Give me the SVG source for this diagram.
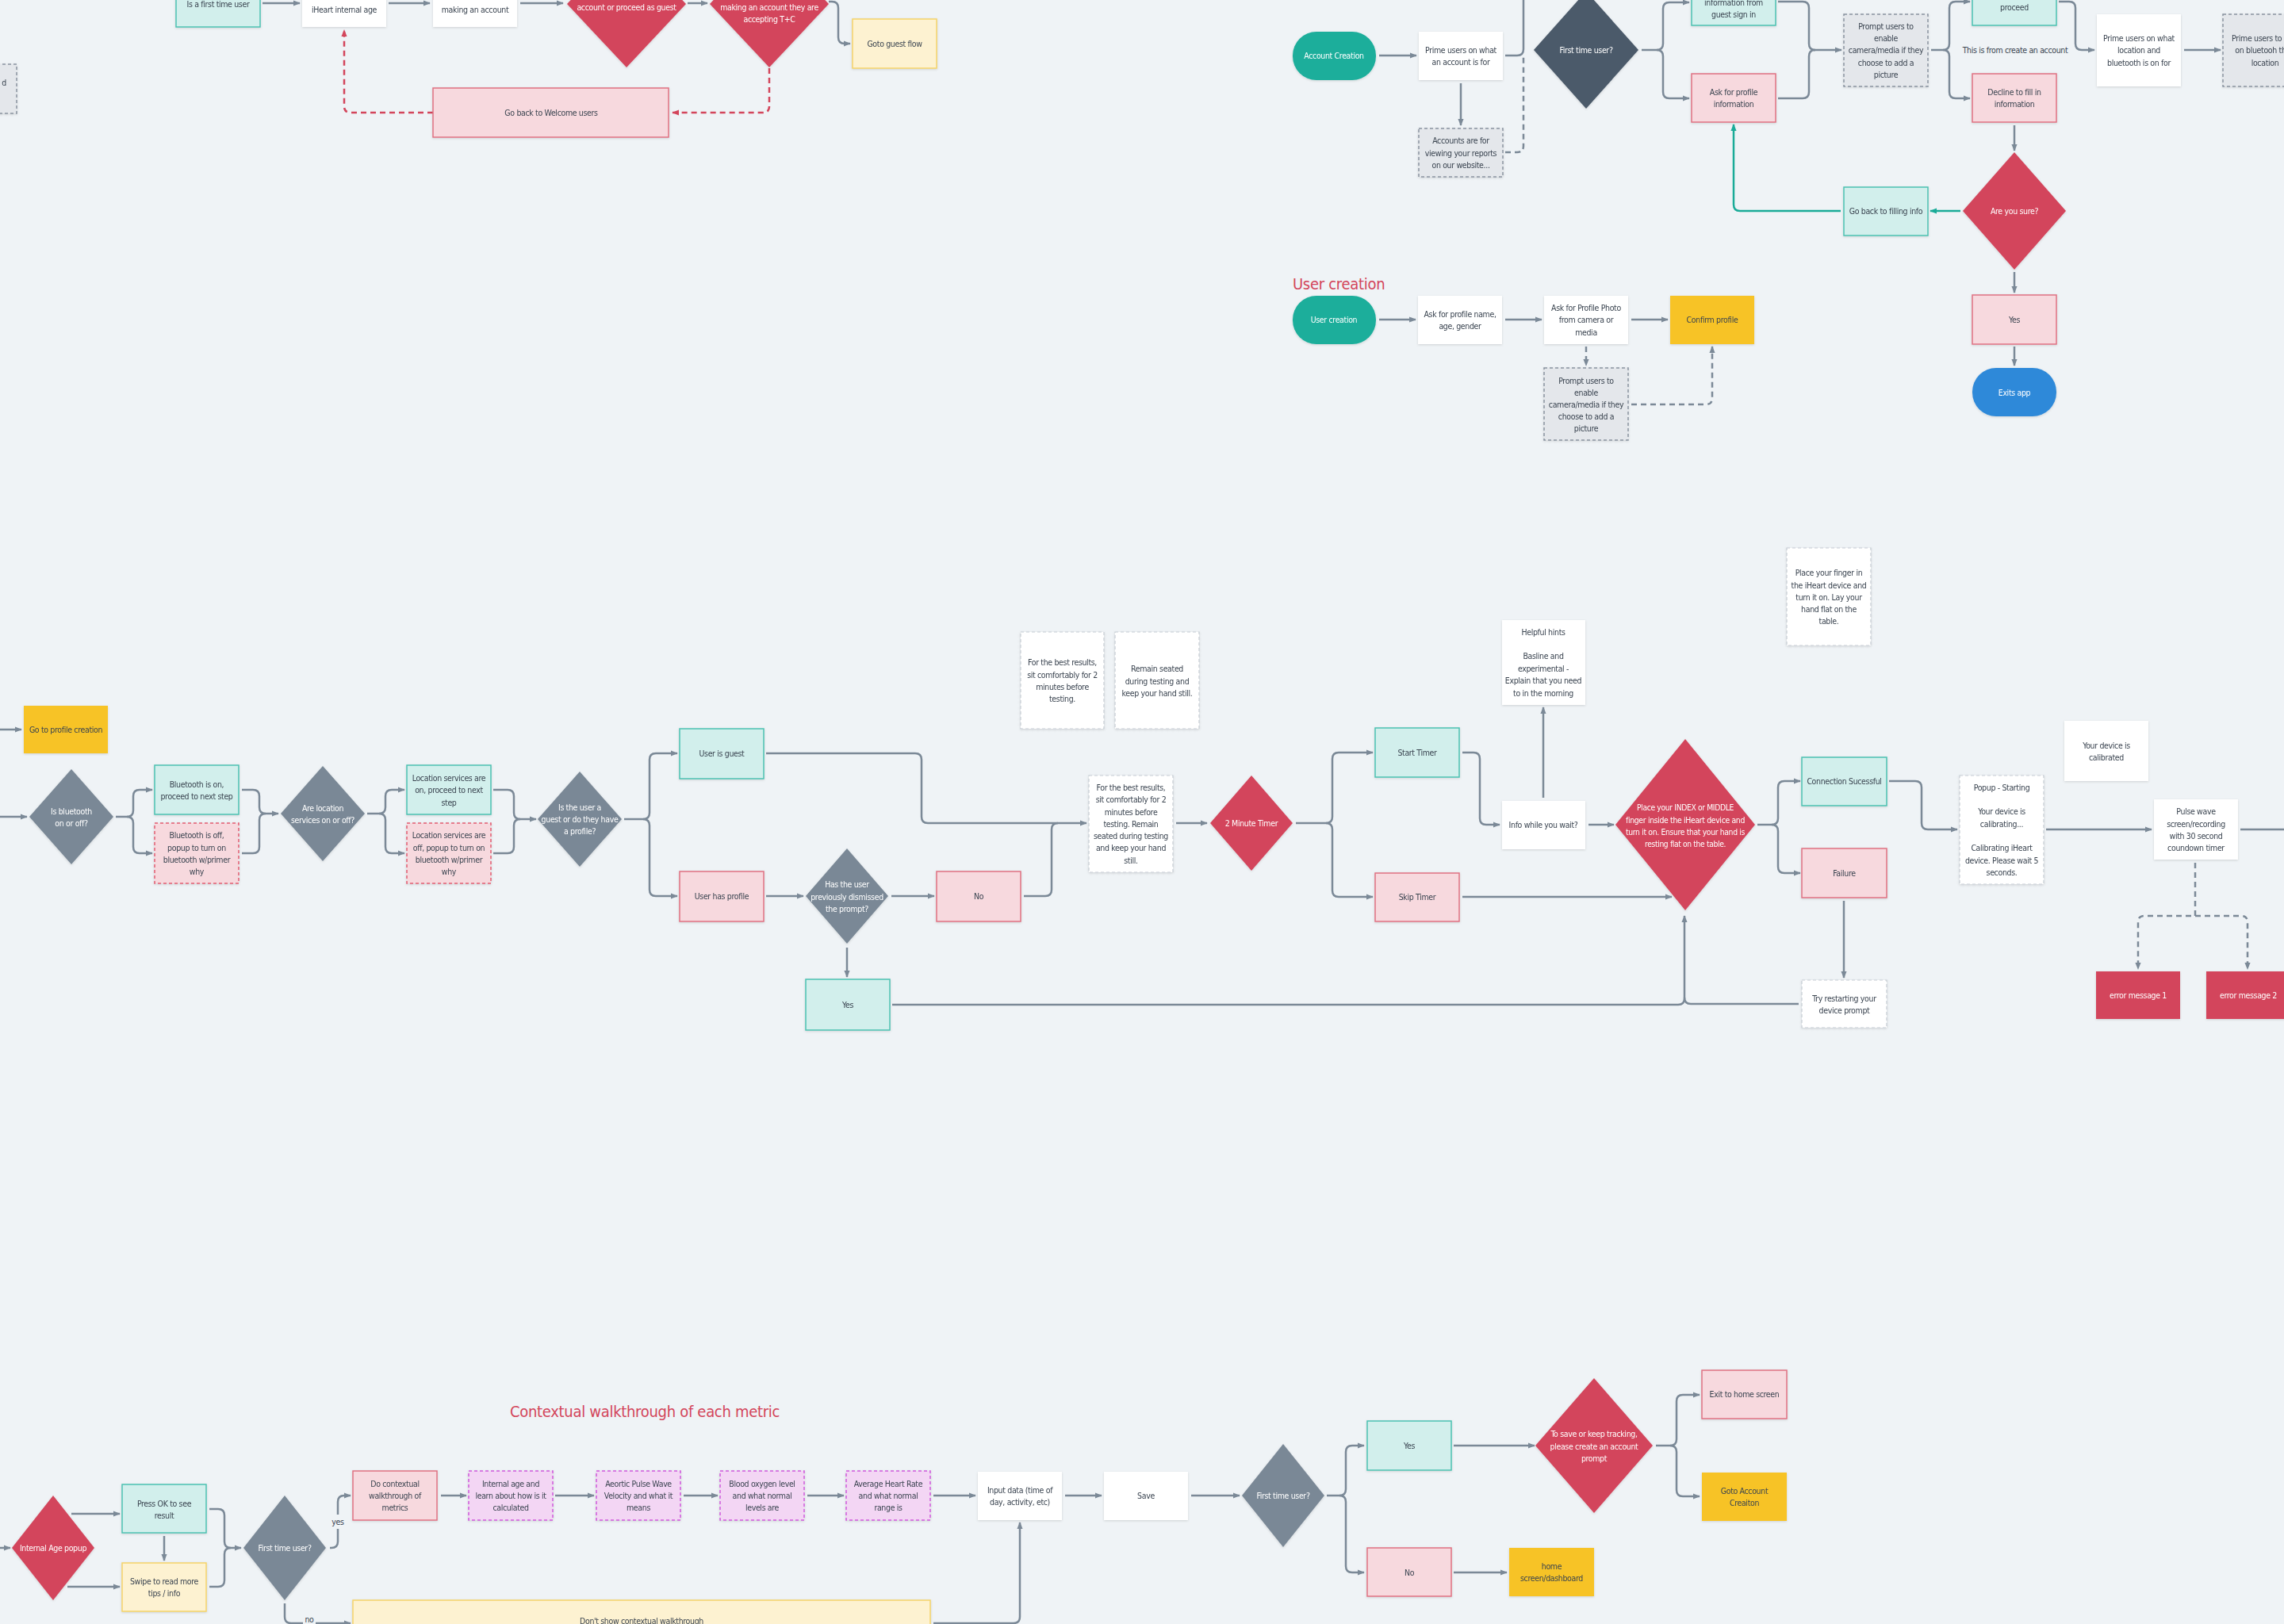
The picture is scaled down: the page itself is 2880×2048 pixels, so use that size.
<svg xmlns="http://www.w3.org/2000/svg" width="2880" height="2048" viewBox="0 0 2880 2048">
<defs>
<style>
.t{font-family:"Liberation Sans Narrow","DejaVu Sans Condensed",Roboto,sans-serif;font-size:10.5px;letter-spacing:-0.35px;fill:#3a4450;text-anchor:middle;dominant-baseline:central}
.tw{fill:#fff}
.h{font-family:"Liberation Sans Narrow","DejaVu Sans Condensed",Roboto,sans-serif;font-size:20px;letter-spacing:-0.3px;fill:#d3455b}
.teal{fill:#d2efec;stroke:#4cc2b2;stroke-width:1.5}
.pink{fill:#f7d9de;stroke:#e07283;stroke-width:1.5}
.pinkd{fill:#f7d9de;stroke:#e25d72;stroke-width:1.5;stroke-dasharray:4 3}
.white{fill:#fff}
.wd{fill:#fff;stroke:#c5ccd3;stroke-width:1.2;stroke-dasharray:4 3}
.gd{fill:#e4e7eb;stroke:#8994a0;stroke-width:1.5;stroke-dasharray:4 3}
.yel{fill:#f7c325}
.ly{fill:#fdf2d1;stroke:#f5d46a;stroke-width:1.5}
.purp{fill:#f3d6f4;stroke:#cf59dc;stroke-width:1.5;stroke-dasharray:4 3}
.red{fill:#d3455b}
.gray{fill:#7a8896}
.dark{fill:#4b5a6a}
.tpill{fill:#1aae9b}
.bpill{fill:#2e89d9}
.c{fill:none;stroke:#7b8997;stroke-width:2.5;marker-end:url(#a)}
.cn{fill:none;stroke:#7b8997;stroke-width:2.5}
.cd{fill:none;stroke:#7b8997;stroke-width:2.5;stroke-dasharray:7 5}
.cda{fill:none;stroke:#7b8997;stroke-width:2.5;stroke-dasharray:7 5;marker-end:url(#a)}
.cta{fill:none;stroke:#1aab98;stroke-width:2.5;marker-end:url(#at)}
.cr{fill:none;stroke:#d3455b;stroke-width:2.5;stroke-dasharray:7 5;marker-end:url(#ar)}
g.n{filter:url(#sh)}
</style>
<marker id="a" viewBox="0 0 10 10" refX="9" refY="5" markerWidth="9" markerHeight="9" markerUnits="userSpaceOnUse" orient="auto"><path d="M0,1 L10,5 L0,9 z" fill="#7b8997"/></marker>
<marker id="at" viewBox="0 0 10 10" refX="9" refY="5" markerWidth="9" markerHeight="9" markerUnits="userSpaceOnUse" orient="auto"><path d="M0,1 L10,5 L0,9 z" fill="#1aab98"/></marker>
<marker id="ar" viewBox="0 0 10 10" refX="9" refY="5" markerWidth="9" markerHeight="9" markerUnits="userSpaceOnUse" orient="auto"><path d="M0,1 L10,5 L0,9 z" fill="#d3455b"/></marker>
<filter id="sh" x="-20%" y="-20%" width="140%" height="140%"><feDropShadow dx="0" dy="1" stdDeviation="1.5" flood-color="#000" flood-opacity="0.14"/></filter>
</defs>
<rect x="0" y="0" width="2880" height="2048" fill="#eff3f6"/>

<g id="connectors">
<path class="c" d="M331 4 L378 4"/>
<path class="c" d="M490 4 L542 4"/>
<path class="c" d="M656 4 L710 4"/>
<path class="c" d="M867 4 L892 4"/>
<path class="c" d="M1045 2 L1049 2 Q1057 2 1057 10 L1057 47 Q1057 55 1065 55 L1072 55"/>
<path class="cr" d="M970 86 L970 134 Q970 142 962 142 L848 142"/>
<path class="cr" d="M546 142 L442 142 Q434 142 434 134 L434 38"/>
<path class="c" d="M1739 70 L1786 70"/>
<path class="c" d="M1842 105 L1842 158"/>
<path class="cn" d="M1898 70 L1913 70 Q1921 70 1921 62 L1921 -5"/>
<path class="cd" d="M1898 192 L1913 192 Q1921 192 1921 184 L1921 72"/>
<path class="c" d="M2070 63 L2089 63 Q2097 63 2097 55 L2097 11 Q2097 3 2105 3 L2130 3"/>
<path class="c" d="M2089 63 Q2097 63 2097 71 L2097 116 Q2097 124 2105 124 L2130 124"/>
<path class="c" d="M2242 2 L2273 2 Q2281 2 2281 10 L2281 55 Q2281 63 2289 63 L2322 63"/>
<path class="cn" d="M2242 124 L2273 124 Q2281 124 2281 116 L2281 71 Q2281 63 2289 63"/>
<path class="c" d="M2435 63 L2450 63 Q2458 63 2458 55 L2458 10 Q2458 2 2466 2 L2484 2"/>
<path class="c" d="M2450 63 Q2458 63 2458 71 L2458 116 Q2458 124 2466 124 L2484 124"/>
<path class="c" d="M2596 2 L2609 2 Q2617 2 2617 10 L2617 55 Q2617 63 2625 63 L2641 63"/>
<path class="c" d="M2754 63 L2800 63"/>
<path class="c" d="M2540 158 L2540 190"/>
<path class="cta" d="M2472 266 L2434 266"/>
<path class="cta" d="M2321 266 L2194 266 Q2186 266 2186 258 L2186 157"/>
<path class="c" d="M2540 343 L2540 369"/>
<path class="c" d="M2540 437 L2540 461"/>
<path class="c" d="M1739 403 L1785 403"/>
<path class="c" d="M1898 403 L1944 403"/>
<path class="c" d="M2057 403 L2103 403"/>
<path class="cda" d="M2000 437 L2000 461"/>
<path class="cda" d="M2057 510 L2151 510 Q2159 510 2159 502 L2159 437"/>
<path class="c" d="M0 920 L27 920"/>
<path class="c" d="M0 1030 L34 1030"/>
<path class="c" d="M146 1030 L160 1030 Q168 1030 168 1022 L168 1004 Q168 996 176 996 L192 996"/>
<path class="c" d="M160 1030 Q168 1030 168 1038 L168 1068 Q168 1076 176 1076 L192 1076"/>
<path class="c" d="M305 996 L319 996 Q327 996 327 1004 L327 1018 Q327 1026 335 1026 L351 1026"/>
<path class="cn" d="M305 1076 L319 1076 Q327 1076 327 1068 L327 1034 Q327 1026 335 1026"/>
<path class="c" d="M463 1026 L478 1026 Q486 1026 486 1018 L486 1004 Q486 996 494 996 L510 996"/>
<path class="c" d="M478 1026 Q486 1026 486 1034 L486 1068 Q486 1076 494 1076 L510 1076"/>
<path class="c" d="M622 996 L640 996 Q648 996 648 1004 L648 1025 Q648 1033 656 1033 L676 1033"/>
<path class="cn" d="M622 1076 L640 1076 Q648 1076 648 1068 L648 1041 Q648 1033 656 1033"/>
<path class="c" d="M787 1033 L811 1033 Q819 1033 819 1025 L819 958 Q819 950 827 950 L854 950"/>
<path class="c" d="M811 1033 Q819 1033 819 1041 L819 1122 Q819 1130 827 1130 L854 1130"/>
<path class="c" d="M966 950 L1154 950 Q1162 950 1162 958 L1162 1030 Q1162 1038 1170 1038 L1370 1038"/>
<path class="c" d="M966 1130 L1013 1130"/>
<path class="c" d="M1124 1130 L1178 1130"/>
<path class="cn" d="M1291 1130 L1318 1130 Q1326 1130 1326 1122 L1326 1046 Q1326 1038 1334 1038"/>
<path class="c" d="M1068 1195 L1068 1232"/>
<path class="c" d="M1125 1267 L2116 1267 Q2124 1267 2124 1259 L2124 1155"/>
<path class="cn" d="M2268 1266 L2132 1266 Q2124 1266 2124 1258"/>
<path class="c" d="M1483 1038 L1522 1038"/>
<path class="c" d="M1634 1038 L1672 1038 Q1680 1038 1680 1030 L1680 957 Q1680 949 1688 949 L1731 949"/>
<path class="c" d="M1672 1038 Q1680 1038 1680 1046 L1680 1123 Q1680 1131 1688 1131 L1731 1131"/>
<path class="c" d="M1844 949 L1858 949 Q1866 949 1866 957 L1866 1032 Q1866 1040 1874 1040 L1891 1040"/>
<path class="c" d="M1946 1006 L1946 892"/>
<path class="c" d="M2003 1040 L2035 1040"/>
<path class="c" d="M1844 1131 L2108 1131"/>
<path class="c" d="M2216 1040 L2234 1040 Q2242 1040 2242 1032 L2242 993 Q2242 985 2250 985 L2270 985"/>
<path class="c" d="M2234 1040 Q2242 1040 2242 1048 L2242 1093 Q2242 1101 2250 1101 L2270 1101"/>
<path class="c" d="M2325 1136 L2325 1233"/>
<path class="c" d="M2382 985 L2415 985 Q2423 985 2423 993 L2423 1038 Q2423 1046 2431 1046 L2468 1046"/>
<path class="c" d="M2580 1046 L2713 1046"/>
<path class="cn" d="M2825 1046 L2880 1046"/>
<path class="cda" d="M2768 1088 L2768 1155 L2704 1155 Q2696 1155 2696 1163 L2696 1222"/>
<path class="cda" d="M2768 1155 L2826 1155 Q2834 1155 2834 1163 L2834 1222"/>
<path class="c" d="M0 1952 L13 1952"/>
<path class="c" d="M90 1909 L151 1909"/>
<path class="c" d="M85 2001 L151 2001"/>
<path class="c" d="M207 1937 L207 1968"/>
<path class="c" d="M264 1903 L275 1903 Q283 1903 283 1911 L283 1944 Q283 1952 291 1952 L304 1952"/>
<path class="cn" d="M264 2001 L275 2001 Q283 2001 283 1993 L283 1960 Q283 1952 291 1952"/>
<path class="c" d="M416 1952 L418 1952 Q426 1952 426 1944 L426 1894 Q426 1886 434 1886 L442 1886"/>
<path class="c" d="M359 2022 L359 2039 Q359 2047 367 2047 L442 2047"/>
<path class="c" d="M556 1886 L588 1886"/>
<path class="c" d="M700 1886 L749 1886"/>
<path class="c" d="M862 1886 L905 1886"/>
<path class="c" d="M1018 1886 L1064 1886"/>
<path class="c" d="M1177 1886 L1230 1886"/>
<path class="c" d="M1343 1886 L1389 1886"/>
<path class="c" d="M1502 1886 L1563 1886"/>
<path class="c" d="M1177 2047 L1278 2047 Q1286 2047 1286 2039 L1286 1920"/>
<path class="c" d="M1673 1886 L1689 1886 Q1697 1886 1697 1878 L1697 1831 Q1697 1823 1705 1823 L1720 1823"/>
<path class="c" d="M1689 1886 Q1697 1886 1697 1894 L1697 1975 Q1697 1983 1705 1983 L1720 1983"/>
<path class="c" d="M1833 1823 L1935 1823"/>
<path class="c" d="M1833 1983 L1900 1983"/>
<path class="c" d="M2088 1823 L2106 1823 Q2114 1823 2114 1815 L2114 1767 Q2114 1759 2122 1759 L2143 1759"/>
<path class="c" d="M2106 1823 Q2114 1823 2114 1831 L2114 1879 Q2114 1887 2122 1887 L2143 1887"/>
<rect x="417" y="1910" width="18" height="18" fill="#eff3f6"/>
<text class="t" x="426" y="1919">yes</text>
<rect x="382" y="2036" width="16" height="14" fill="#eff3f6"/>
<text class="t" x="390" y="2042">no</text>
</g>

<text id="title-user-creation" class="h" x="1630" y="365">User creation</text>
<text id="title-contextual" class="h" x="643" y="1787">Contextual walkthrough of each metric</text>

<g id="n-left-dashed" class="n"><rect class="gd" x="-60" y="81" width="81" height="62"/><text class="t" x="8" y="104" style="text-anchor:end">d</text></g>
<g id="n-first-time-user-top" class="n"><rect class="teal" x="222" y="-30" width="106" height="64"/><text class="t" x="275" y="5">Is a first time user</text></g>
<g id="n-iheart-age" class="n"><rect class="white" x="381" y="-28" width="106" height="62"/><text class="t" x="434" y="12">iHeart internal age</text></g>
<g id="n-making-account" class="n"><rect class="white" x="546" y="-28" width="106" height="62"/><text class="t" x="599" y="12">making an account</text></g>
<g id="n-diamond-guest" class="n"><polygon class="red" points="790,-75 865,5 790,85 715,5"/><text class="t tw" x="790" y="9">account or proceed as guest</text></g>
<g id="n-diamond-tc" class="n"><polygon class="red" points="970,-75 1045,5 970,85 895,5"/><text class="t tw" x="970" y="9">making an account they are</text><text class="t tw" x="970" y="24">accepting T+C</text></g>
<g id="n-goto-guest" class="n"><rect class="ly" x="1075" y="24" width="106" height="62"/><text class="t" x="1128" y="55">Goto guest flow</text></g>
<g id="n-go-back-welcome" class="n"><rect class="pink" x="546" y="111" width="297" height="62"/><text class="t" x="695" y="142">Go back to Welcome users</text></g>

<g id="n-account-creation" class="n"><rect class="tpill" x="1630" y="40" width="105" height="61" rx="30"/><text class="t tw" x="1682" y="70">Account Creation</text></g>
<g id="n-prime-account" class="n"><rect class="white" x="1789" y="40" width="106" height="61"/><text class="t" x="1842" y="63">Prime users on what</text><text class="t" x="1842" y="78">an account is for</text></g>
<g id="n-accounts-for" class="n"><rect class="gd" x="1789" y="162" width="106" height="61"/><text class="t" x="1842" y="177">Accounts are for</text><text class="t" x="1842" y="192.5">viewing your reports</text><text class="t" x="1842" y="208">on our website...</text></g>
<g id="n-first-time-dark" class="n"><polygon class="dark" points="2000,-11 2066,63 2000,137 1934,63"/><text class="t tw" x="2000" y="63">First time user?</text></g>
<g id="n-guest-info" class="n"><rect class="teal" x="2133" y="-28" width="106" height="60"/><text class="t" x="2186" y="3">information from</text><text class="t" x="2186" y="18">guest sign in</text></g>
<g id="n-ask-profile" class="n"><rect class="pink" x="2133" y="93" width="106" height="61"/><text class="t" x="2186" y="116">Ask for profile</text><text class="t" x="2186" y="131">information</text></g>
<g id="n-prompt-camera-1" class="n"><rect class="gd" x="2325" y="18" width="106" height="91"/><text class="t" x="2378" y="33">Prompt users to</text><text class="t" x="2378" y="48">enable</text><text class="t" x="2378" y="63">camera/media if they</text><text class="t" x="2378" y="79">choose to add a</text><text class="t" x="2378" y="94">picture</text></g>
<g id="n-proceed" class="n"><rect class="teal" x="2487" y="-28" width="106" height="60"/><text class="t" x="2540" y="9">proceed</text></g>
<g id="n-note-create"><text class="t" x="2541" y="63">This is from create an account</text></g>
<g id="n-decline" class="n"><rect class="pink" x="2487" y="93" width="106" height="61"/><text class="t" x="2540" y="116">Decline to fill in</text><text class="t" x="2540" y="131">information</text></g>
<g id="n-prime-location" class="n"><rect class="white" x="2644" y="18" width="106" height="91"/><text class="t" x="2697" y="48">Prime users on what</text><text class="t" x="2697" y="63">location and</text><text class="t" x="2697" y="79">bluetooth is on for</text></g>
<g id="n-prime-turn" class="n"><rect class="gd" x="2803" y="18" width="106" height="91"/><text class="t" x="2856" y="48">Prime users to turn</text><text class="t" x="2856" y="63">on bluetooh then</text><text class="t" x="2856" y="79">location</text></g>
<g id="n-are-you-sure" class="n"><polygon class="red" points="2540,192 2605,266 2540,340 2475,266"/><text class="t tw" x="2540" y="266">Are you sure?</text></g>
<g id="n-go-back-filling" class="n"><rect class="teal" x="2325" y="236" width="106" height="61"/><text class="t" x="2378" y="266">Go back to filling info</text></g>
<g id="n-yes-exit" class="n"><rect class="pink" x="2487" y="372" width="106" height="62"/><text class="t" x="2540" y="403">Yes</text></g>
<g id="n-exits-app" class="n"><rect class="bpill" x="2487" y="464" width="106" height="61" rx="30"/><text class="t tw" x="2540" y="495">Exits app</text></g>

<g id="n-user-creation" class="n"><rect class="tpill" x="1630" y="373" width="105" height="61" rx="30"/><text class="t tw" x="1682" y="403">User creation</text></g>
<g id="n-ask-name" class="n"><rect class="white" x="1788" y="373" width="106" height="61"/><text class="t" x="1841" y="396">Ask for profile name,</text><text class="t" x="1841" y="411">age, gender</text></g>
<g id="n-ask-photo" class="n"><rect class="white" x="1947" y="373" width="106" height="61"/><text class="t" x="2000" y="388">Ask for Profile Photo</text><text class="t" x="2000" y="403">from camera or</text><text class="t" x="2000" y="419">media</text></g>
<g id="n-confirm-profile" class="n"><rect class="yel" x="2106" y="373" width="106" height="61"/><text class="t" x="2159" y="403">Confirm profile</text></g>
<g id="n-prompt-camera-2" class="n"><rect class="gd" x="1947" y="464" width="106" height="91"/><text class="t" x="2000" y="480">Prompt users to</text><text class="t" x="2000" y="495">enable</text><text class="t" x="2000" y="510">camera/media if they</text><text class="t" x="2000" y="525">choose to add a</text><text class="t" x="2000" y="540">picture</text></g>

<g id="n-goto-profile" class="n"><rect class="yel" x="30" y="890" width="106" height="60"/><text class="t" x="83" y="920">Go to profile creation</text></g>
<g id="n-is-bluetooth" class="n"><polygon class="gray" points="90,970 143,1030 90,1090 37,1030"/><text class="t tw" x="90" y="1023">Is bluetooth</text><text class="t tw" x="90" y="1038">on or off?</text></g>
<g id="n-bt-on" class="n"><rect class="teal" x="195" y="965" width="106" height="62"/><text class="t" x="248" y="989">Bluetooth is on,</text><text class="t" x="248" y="1004">proceed to next step</text></g>
<g id="n-bt-off" class="n"><rect class="pinkd" x="195" y="1038" width="106" height="76"/><text class="t" x="248" y="1053">Bluetooth is off,</text><text class="t" x="248" y="1069">popup to turn on</text><text class="t" x="248" y="1084">bluetooth w/primer</text><text class="t" x="248" y="1099">why</text></g>
<g id="n-are-location" class="n"><polygon class="gray" points="407,966 460,1026 407,1086 354,1026"/><text class="t tw" x="407" y="1019">Are location</text><text class="t tw" x="407" y="1034">services on or off?</text></g>
<g id="n-loc-on" class="n"><rect class="teal" x="513" y="965" width="106" height="62"/><text class="t" x="566" y="981">Location services are</text><text class="t" x="566" y="996">on, proceed to next</text><text class="t" x="566" y="1012">step</text></g>
<g id="n-loc-off" class="n"><rect class="pinkd" x="513" y="1038" width="106" height="76"/><text class="t" x="566" y="1053">Location services are</text><text class="t" x="566" y="1069">off, popup to turn on</text><text class="t" x="566" y="1084">bluetooth w/primer</text><text class="t" x="566" y="1099">why</text></g>
<g id="n-is-guest" class="n"><polygon class="gray" points="731,973 784,1033 731,1093 678,1033"/><text class="t tw" x="731" y="1018">Is the user a</text><text class="t tw" x="731" y="1033">guest or do they have</text><text class="t tw" x="731" y="1048">a profile?</text></g>
<g id="n-user-guest" class="n"><rect class="teal" x="857" y="919" width="106" height="63"/><text class="t" x="910" y="950">User is guest</text></g>
<g id="n-user-profile" class="n"><rect class="pink" x="857" y="1099" width="106" height="63"/><text class="t" x="910" y="1130">User has profile</text></g>
<g id="n-dismissed" class="n"><polygon class="gray" points="1068,1070 1120,1130 1068,1190 1016,1130"/><text class="t tw" x="1068" y="1115">Has the user</text><text class="t tw" x="1068" y="1130.5">previously dismissed</text><text class="t tw" x="1068" y="1146">the prompt?</text></g>
<g id="n-no-mid" class="n"><rect class="pink" x="1181" y="1099" width="106" height="63"/><text class="t" x="1234" y="1130">No</text></g>
<g id="n-yes-mid" class="n"><rect class="teal" x="1016" y="1235" width="106" height="64"/><text class="t" x="1069" y="1267">Yes</text></g>
<g id="n-note-best1" class="n"><rect class="wd" x="1287" y="797" width="105" height="122"/><text class="t" x="1339.5" y="835">For the best results,</text><text class="t" x="1339.5" y="850.5">sit comfortably for 2</text><text class="t" x="1339.5" y="866">minutes before</text><text class="t" x="1339.5" y="881">testing.</text></g>
<g id="n-note-remain" class="n"><rect class="wd" x="1406" y="797" width="106" height="122"/><text class="t" x="1459" y="843">Remain seated</text><text class="t" x="1459" y="858.5">during testing and</text><text class="t" x="1459" y="873.5">keep your hand still.</text></g>
<g id="n-note-best2" class="n"><rect class="wd" x="1373" y="978" width="106" height="122"/><text class="t" x="1426" y="993">For the best results,</text><text class="t" x="1426" y="1008.3">sit comfortably for 2</text><text class="t" x="1426" y="1023.5">minutes before</text><text class="t" x="1426" y="1038.6">testing. Remain</text><text class="t" x="1426" y="1054">seated during testing</text><text class="t" x="1426" y="1069.3">and keep your hand</text><text class="t" x="1426" y="1084.5">still.</text></g>
<g id="n-2min" class="n"><polygon class="red" points="1578,978 1630,1038 1578,1098 1526,1038"/><text class="t tw" x="1578" y="1038">2 Minute Timer</text></g>
<g id="n-start-timer" class="n"><rect class="teal" x="1734" y="918" width="106" height="62"/><text class="t" x="1787" y="949">Start Timer</text></g>
<g id="n-skip-timer" class="n"><rect class="pink" x="1734" y="1101" width="106" height="61"/><text class="t" x="1787" y="1131">Skip Timer</text></g>
<g id="n-info-wait" class="n"><rect class="white" x="1894" y="1010" width="105" height="61"/><text class="t" x="1946" y="1040">Info while you wait?</text></g>
<g id="n-helpful" class="n"><rect class="white" x="1894" y="782" width="105" height="107"/><text class="t" x="1946" y="797">Helpful hints</text><text class="t" x="1946" y="827">Basline and</text><text class="t" x="1946" y="843">experimental -</text><text class="t" x="1946" y="858">Explain that you need</text><text class="t" x="1946" y="873.5">to in the morning</text></g>
<g id="n-place" class="n"><polygon class="red" points="2125,932 2213,1040 2125,1148 2037,1040"/><text class="t tw" x="2125" y="1018" textLength="122" lengthAdjust="spacingAndGlyphs">Place your INDEX or MIDDLE</text><text class="t tw" x="2125" y="1033.5" textLength="150" lengthAdjust="spacingAndGlyphs">finger inside the iHeart device  and</text><text class="t tw" x="2125" y="1048.6" textLength="150" lengthAdjust="spacingAndGlyphs">turn it on. Ensure that your hand is</text><text class="t tw" x="2125" y="1063.7" textLength="102" lengthAdjust="spacingAndGlyphs">resting flat on the table.</text></g>
<g id="n-place-note" class="n"><rect class="wd" x="2253" y="691" width="106" height="123"/><text class="t" x="2306" y="722">Place your finger in</text><text class="t" x="2306" y="737.6">the iHeart device and</text><text class="t" x="2306" y="753">turn it on. Lay your</text><text class="t" x="2306" y="768">hand flat on the</text><text class="t" x="2306" y="783.3">table.</text></g>
<g id="n-connection" class="n"><rect class="teal" x="2272" y="955" width="107" height="61"/><text class="t" x="2325.5" y="985">Connection Sucessful</text></g>
<g id="n-failure" class="n"><rect class="pink" x="2272" y="1070" width="107" height="62"/><text class="t" x="2325.5" y="1101">Failure</text></g>
<g id="n-try-restart" class="n"><rect class="wd" x="2272" y="1236" width="107" height="60"/><text class="t" x="2325.5" y="1259">Try restarting your</text><text class="t" x="2325.5" y="1274">device prompt</text></g>
<g id="n-popup" class="n"><rect class="wd" x="2471" y="978" width="106" height="137"/><text class="t" x="2524" y="993">Popup - Starting</text><text class="t" x="2524" y="1023.3">Your device is</text><text class="t" x="2524" y="1038.8">calibrating...</text><text class="t" x="2524" y="1069">Calibrating iHeart</text><text class="t" x="2524" y="1084.5">device. Please wait 5</text><text class="t" x="2524" y="1099.6">seconds.</text></g>
<g id="n-calibrated" class="n"><rect class="white" x="2603" y="909" width="106" height="76"/><text class="t" x="2656" y="940">Your device is</text><text class="t" x="2656" y="955">calibrated</text></g>
<g id="n-pulse" class="n"><rect class="white" x="2716" y="1008" width="106" height="76"/><text class="t" x="2769" y="1023.3">Pulse wave</text><text class="t" x="2769" y="1038.8">screen/recording</text><text class="t" x="2769" y="1054">with 30 second</text><text class="t" x="2769" y="1069">coundown timer</text></g>
<g id="n-err1" class="n"><rect class="red" x="2643" y="1225" width="106" height="60"/><text class="t tw" x="2696" y="1255">error message 1</text></g>
<g id="n-err2" class="n"><rect class="red" x="2782" y="1225" width="106" height="60"/><text class="t tw" x="2835" y="1255">error message 2</text></g>

<g id="n-internal-age" class="n"><polygon class="red" points="67,1886 119,1952 67,2018 15,1952"/><text class="t tw" x="67" y="1952">Internal Age popup</text></g>
<g id="n-press-ok" class="n"><rect class="teal" x="154" y="1872" width="106" height="61"/><text class="t" x="207" y="1896">Press OK to see</text><text class="t" x="207" y="1911">result</text></g>
<g id="n-swipe" class="n"><rect class="ly" x="154" y="1971" width="106" height="61"/><text class="t" x="207" y="1994">Swipe to read more</text><text class="t" x="207" y="2009">tips / info</text></g>
<g id="n-first-time-b1" class="n"><polygon class="gray" points="359,1886 411,1952 359,2018 307,1952"/><text class="t tw" x="359" y="1952">First time user?</text></g>
<g id="n-do-contextual" class="n"><rect class="pink" x="445" y="1855" width="106" height="62"/><text class="t" x="498" y="1871">Do contextual</text><text class="t" x="498" y="1886">walkthrough of</text><text class="t" x="498" y="1901">metrics</text></g>
<g id="n-m-age" class="n"><rect class="purp" x="591" y="1855" width="106" height="62"/><text class="t" x="644" y="1871">Internal age and</text><text class="t" x="644" y="1886">learn about how is it</text><text class="t" x="644" y="1901">calculated</text></g>
<g id="n-m-pwv" class="n"><rect class="purp" x="752" y="1855" width="106" height="62"/><text class="t" x="805" y="1871">Aeortic Pulse Wave</text><text class="t" x="805" y="1886">Velocity and what it</text><text class="t" x="805" y="1901">means</text></g>
<g id="n-m-oxy" class="n"><rect class="purp" x="908" y="1855" width="106" height="62"/><text class="t" x="961" y="1871">Blood oxygen level</text><text class="t" x="961" y="1886">and what normal</text><text class="t" x="961" y="1901">levels are</text></g>
<g id="n-m-hr" class="n"><rect class="purp" x="1067" y="1855" width="106" height="62"/><text class="t" x="1120" y="1871">Average Heart Rate</text><text class="t" x="1120" y="1886">and what normal</text><text class="t" x="1120" y="1901">range is</text></g>
<g id="n-dont-show" class="n"><rect class="ly" x="445" y="2018" width="728" height="60"/><text class="t" x="809" y="2044">Don't show contextual walkthrough</text></g>
<g id="n-input-data" class="n"><rect class="white" x="1233" y="1856" width="106" height="61"/><text class="t" x="1286" y="1879">Input data (time of</text><text class="t" x="1286" y="1894">day, activity, etc)</text></g>
<g id="n-save" class="n"><rect class="white" x="1392" y="1856" width="106" height="61"/><text class="t" x="1445" y="1886">Save</text></g>
<g id="n-first-time-b2" class="n"><polygon class="gray" points="1618,1821 1670,1886 1618,1951 1566,1886"/><text class="t tw" x="1618" y="1886">First time user?</text></g>
<g id="n-yes-b" class="n"><rect class="teal" x="1724" y="1792" width="106" height="62"/><text class="t" x="1777" y="1823">Yes</text></g>
<g id="n-no-b" class="n"><rect class="pink" x="1724" y="1952" width="106" height="61"/><text class="t" x="1777" y="1983">No</text></g>
<g id="n-to-save" class="n"><polygon class="red" points="2010,1738 2084,1823 2010,1908 1936,1823"/><text class="t tw" x="2010" y="1808">To save or keep tracking,</text><text class="t tw" x="2010" y="1824">please create an account</text><text class="t tw" x="2010" y="1839">prompt</text></g>
<g id="n-exit-home" class="n"><rect class="pink" x="2146" y="1728" width="107" height="61"/><text class="t" x="2199.5" y="1758">Exit to home screen</text></g>
<g id="n-goto-account" class="n"><rect class="yel" x="2146" y="1857" width="107" height="61"/><text class="t" x="2199.5" y="1880">Goto Account</text><text class="t" x="2199.5" y="1895">Creaiton</text></g>
<g id="n-home-dash" class="n"><rect class="yel" x="1903" y="1952" width="107" height="61"/><text class="t" x="1956.5" y="1975">home</text><text class="t" x="1956.5" y="1990">screen/dashboard</text></g>
</svg>
